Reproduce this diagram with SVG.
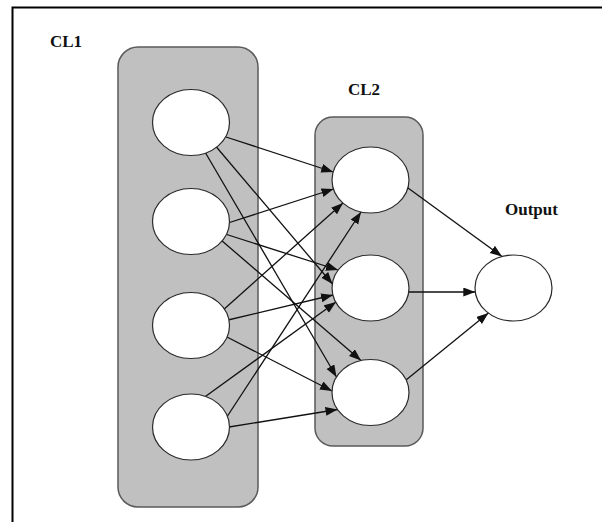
<svg xmlns="http://www.w3.org/2000/svg" width="602" height="522" viewBox="0 0 602 522">
  <style>
    .layer { fill: #c0c0c0; stroke: #5a5a5a; stroke-width: 1.5; }
    .node { fill: #ffffff; stroke: #2a2a2a; stroke-width: 1.2; }
    .edge { stroke: #111111; stroke-width: 1.3; fill: none; marker-end: url(#arrow); }
    .label { font-family: "Liberation Serif", "Times New Roman", serif; font-weight: bold; font-size: 17px; fill: #111111; }
  </style>
  <defs>
    <marker id="arrow" markerUnits="userSpaceOnUse" markerWidth="13" markerHeight="10" refX="12" refY="4.5" orient="auto">
      <path d="M0,0 L12,4.5 L0,9 z" fill="#111111"/>
    </marker>
  </defs>

  <rect width="602" height="522" fill="#ffffff"/>
  <!-- outer frame, running past the right and bottom edges -->
  <rect x="12.5" y="7.5" width="600" height="530" fill="none" stroke="#000000" stroke-width="2"/>

  <!-- layer backgrounds -->
  <g id="layer-cl1">
    <rect class="layer" x="118" y="47" width="140" height="460" rx="20" ry="20"/>
    <text class="label" x="50" y="47">CL1</text>
  </g>
  <g id="layer-cl2">
    <rect class="layer" x="315" y="117" width="108" height="329" rx="18" ry="18"/>
    <text class="label" x="348" y="95">CL2</text>
  </g>
  <g id="layer-output">
    <text class="label" x="505" y="215">Output</text>
  </g>

  <!-- connectors -->
  <g id="connectors">
    <line class="edge" x1="226" y1="137" x2="333.2" y2="172"/>
    <line class="edge" x1="216" y1="146.5" x2="332.5" y2="284"/>
    <line class="edge" x1="205" y1="152" x2="336.5" y2="377"/>

    <line class="edge" x1="228" y1="223" x2="333.5" y2="189"/>
    <line class="edge" x1="222" y1="233" x2="338" y2="270"/>
    <line class="edge" x1="221" y1="240" x2="361" y2="360.5"/>

    <line class="edge" x1="222" y1="311" x2="343" y2="203"/>
    <line class="edge" x1="228" y1="320" x2="333" y2="295"/>
    <line class="edge" x1="227" y1="337" x2="332" y2="391"/>

    <line class="edge" x1="204" y1="397.5" x2="336" y2="302"/>
    <line class="edge" x1="226.5" y1="417.5" x2="361" y2="212"/>
    <line class="edge" x1="229" y1="427" x2="337.5" y2="409.5"/>

    <line class="edge" x1="408" y1="188" x2="502" y2="256.5"/>
    <line class="edge" x1="408.7" y1="292" x2="475.3" y2="292"/>
    <line class="edge" x1="406" y1="380" x2="488.4" y2="313"/>
  </g>

  <!-- CL1 nodes -->
  <g id="cl1-n1"><ellipse class="node" cx="191" cy="122.5" rx="38.5" ry="33"/></g>
  <g id="cl1-n2"><ellipse class="node" cx="191" cy="221.5" rx="38.5" ry="33"/></g>
  <g id="cl1-n3"><ellipse class="node" cx="191" cy="325.5" rx="38.5" ry="33"/></g>
  <g id="cl1-n4"><ellipse class="node" cx="191" cy="427" rx="38.5" ry="33"/></g>

  <!-- CL2 nodes -->
  <g id="cl2-n1"><ellipse class="node" cx="370.5" cy="180" rx="38.5" ry="33"/></g>
  <g id="cl2-n2"><ellipse class="node" cx="370.5" cy="288" rx="38.5" ry="33"/></g>
  <g id="cl2-n3"><ellipse class="node" cx="370.5" cy="392.5" rx="38.5" ry="33"/></g>

  <!-- output node -->
  <g id="output-n1"><ellipse class="node" cx="513.5" cy="288" rx="38.5" ry="33"/></g>
</svg>
